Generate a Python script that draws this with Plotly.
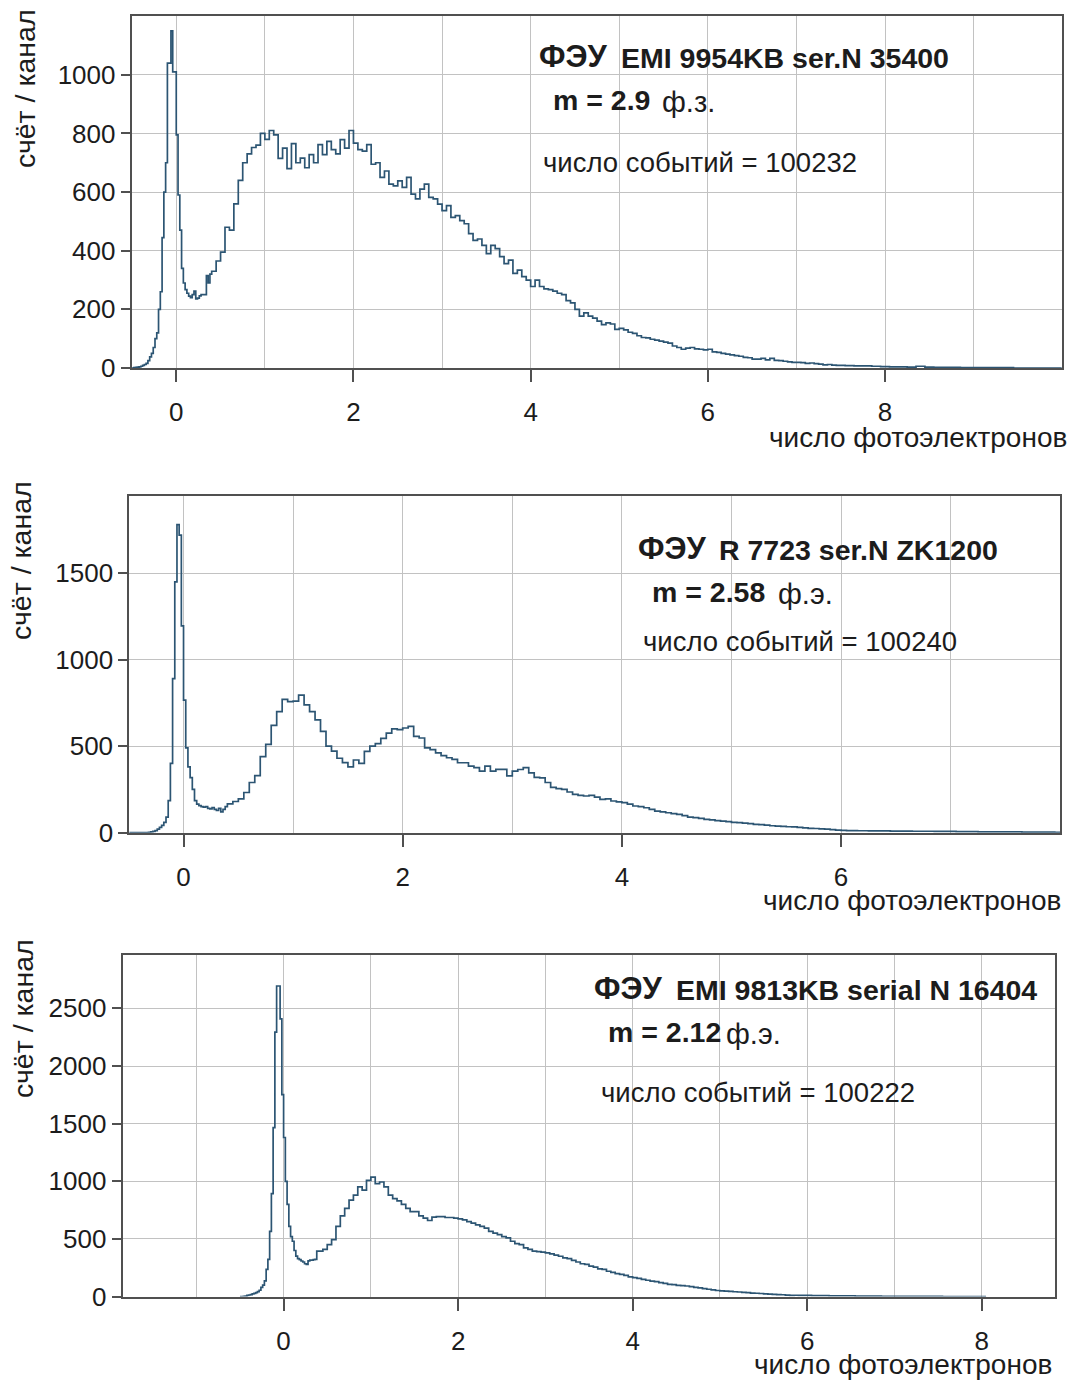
import numpy as np
import plotly.graph_objects as go

W, H = 1075, 1396

# ---------------- DATA ----------------
# Each histogram is given as segments: (first bin left edge, bin width, counts)
# Panel 1: EMI 9954KB
p1_fine = [0, 1, 2, 3, 4, 6, 9, 12, 16, 25,
           38, 50, 70, 100, 120, 200, 260, 445, 600, 700,
           1040, 1040, 1150, 1010, 1010, 795, 590, 470, 340, 290,
           267, 255, 245, 240, 250, 262, 236, 238, 246, 250,
           250, 250, 315, 290, 320]
p1_mid = [330, 365, 395, 480, 470, 560, 640, 700, 730, 752,
          760, 800, 780, 810, 795, 715, 750, 680, 765, 700,
          716, 683, 728, 700, 762, 728, 773, 745, 730, 779,
          750, 810, 767, 745, 740, 762, 695, 700, 650, 672,
          627, 621, 638, 616, 650, 593, 577, 610, 627, 582,
          577, 559, 537, 554, 514, 520, 503, 492, 458, 435,
          440, 418, 390, 418, 407, 380, 356, 368, 323, 334,
          312, 300, 278, 300, 278, 270, 267, 262, 255, 250,
          230, 222, 200, 177, 188, 177, 170, 160, 148, 154,
          150, 132, 135, 130, 122, 118, 110, 104, 103, 98,
          95, 92, 88, 85, 75, 70, 64, 68, 70, 65,
          64, 62, 64, 55, 53, 50, 47, 45, 42, 40,
          36, 35, 30, 30, 33, 28, 33, 26, 25, 23,
          21, 19, 19, 18, 16, 17, 15, 13, 11, 12,
          10]
p1_tail = [9, 8, 7, 7, 6, 5, 4, 4, 3, 6, 3, 2, 2, 2, 1, 1, 1, 1, 1, 1, 0, 0, 0, 0, 0, 0]

# Panel 2: R 7723
p2_fine = [0, 0, 0, 0, 0, 0, 0, 1, 1, 2,
           4, 7, 12, 20, 30, 42, 60, 90, 185, 400,
           890, 1450, 1780, 1720, 1195, 766, 490, 380, 318, 250,
           185, 165, 156, 150, 147, 150, 140, 137, 145, 135,
           128, 140, 120, 135, 150]
p2_mid = [166, 180, 195, 232, 290, 330, 440, 510, 620, 700,
          770, 757, 760, 795, 738, 700, 652, 585, 500, 471,
          430, 405, 380, 420, 400, 470, 500, 515, 545, 575,
          600, 595, 605, 614, 557, 547, 490, 480, 461, 445,
          433, 423, 404, 404, 385, 376, 356, 385, 356, 366,
          366, 328, 356, 365, 376, 345, 320, 317, 290, 262,
          255, 250, 235, 221, 215, 212, 215, 205, 192, 195,
          183, 178, 173, 165, 154, 150, 144, 135, 125, 120,
          115, 110, 106, 98, 90, 87, 82, 77, 74, 70,
          67, 64, 60, 58, 55, 52, 48, 46, 43, 40,
          38, 36, 34, 33, 30, 28, 25, 24, 22, 20,
          17, 15, 13]
p2_tail = [12, 11, 10, 10, 9, 9, 8, 8, 7, 7, 6, 6, 5, 5, 4, 4, 3, 3, 3, 2, 2]

# Panel 3: EMI 9813KB
p3_fine = [0, 0, 2, 5, 10, 14, 18, 23, 28, 35,
           43, 55, 80, 100, 137, 237, 323, 566, 894, 1466,
           2294, 2694, 2694, 2409, 1751, 1380, 1000, 800, 609, 520,
           480, 400, 351, 330, 320, 309, 300, 285, 280, 310,
           317, 317, 320, 323, 394]
p3_mid = [394, 409, 451, 494, 609, 700, 766, 837, 880, 951,
          923, 1009, 1037, 980, 994, 951, 880, 850, 830, 800,
          766, 737, 737, 700, 680, 660, 690, 694, 694, 686,
          686, 680, 675, 666, 650, 637, 623, 610, 594, 566,
          550, 537, 520, 509, 480, 460, 451, 423, 410, 394,
          390, 385, 380, 370, 360, 350, 336, 330, 315, 300,
          285, 279, 265, 255, 240, 236, 220, 210, 200, 193,
          185, 172, 164, 158, 150, 142, 135, 130, 122, 115,
          106, 104, 98, 95, 92, 86, 80, 75, 69, 64,
          58, 53, 49, 47, 45, 42, 40, 37, 34, 31,
          29, 27, 24, 22, 20, 18, 16, 13, 11, 12,
          11, 10, 11]
p3_tail = [9, 8, 7, 6, 6, 5, 4, 4, 3, 3, 3, 2, 2, 2, 2, 1, 1, 1, 1, 1]

panel_titles = ["EMI 9954KB ser.N 35400", "R 7723 ser.N ZK1200", "EMI 9813KB serial N 16404"]
panel_m = ["m = 2.9", "m = 2.58", "m = 2.12"]
panel_unit = ["ф.з.", "ф.э.", "ф.э."]
panel_events = ["число событий = 100232", "число событий = 100240", "число событий = 100222"]
y_title = "счёт / канал"
x_title = "число фотоэлектронов"


def build(segments):
    xs, ys = [], []
    start = None
    for s0, step, vals in segments:
        if start is None:
            start = s0
        for i, v in enumerate(vals):
            xs.append(round(start + step * i, 4))
            ys.append(v)
        start = start + step * len(vals)
    xs.append(round(start, 4))
    ys.append(ys[-1])
    return xs, ys


series = [
    build([(-0.5, 0.02, p1_fine), (0.4, 0.05, p1_mid), (None, 0.1, p1_tail)]),
    build([(-0.5, 0.02, p2_fine), (0.4, 0.05, p2_mid), (None, 0.1, p2_tail)]),
    build([(-0.5, 0.02, p3_fine), (0.4, 0.05, p3_mid), (None, 0.1, p3_tail)]),
]

# ---------------- LAYOUT (pixel geometry) ----------------
FONT = "Liberation Sans, Arial, sans-serif"
TXT = "#1c1c1c"
GRID = "#c2c2c2"
AXC = "#505050"
LINE = "#2c5573"

# left, right, top, bottom in px; x range; y range; y dtick
geom = [
    dict(l=131.7, r=1061.7, t=16.5, b=372.0, xr=[-0.503, 9.994], yr=[0, 1199.5], dy=200),
    dict(l=129.3, r=1060.0, t=501.7, b=841.7, xr=[-0.495, 7.998], yr=[0, 1944], dy=500),
    dict(l=122.6, r=1055.0, t=965.0, b=1310.7, xr=[-1.845, 8.84], yr=[0, 2966], dy=500),
]

fig = go.Figure()
for i, (xs, ys) in enumerate(series):
    n = "" if i == 0 else str(i + 1)
    fig.add_trace(go.Scatter(x=xs, y=ys, mode="lines", line=dict(color=LINE, width=1.7, shape="hv"),
                             xaxis="x" + n, yaxis="y" + n, showlegend=False, hoverinfo="skip"))

layout = dict(width=W, height=H, margin=dict(l=0, r=0, t=0, b=0),
              paper_bgcolor="white", plot_bgcolor="white", showlegend=False,
              font=dict(family=FONT, size=26, color=TXT))

annotations = []


def px(xp):
    return xp / W


def py(yp):
    return 1 - yp / H


for i, g in enumerate(geom):
    n = "" if i == 0 else str(i + 1)
    layout["xaxis" + n] = dict(
        domain=[px(g["l"]), px(g["r"])], range=g["xr"], anchor="y" + n,
        tick0=0, dtick=2, showgrid=True, gridcolor=GRID, gridwidth=1,
        minor=dict(dtick=1, tick0=0, showgrid=True, gridcolor=GRID, gridwidth=1, ticklen=0),
        showline=True, mirror=True, linecolor=AXC, linewidth=2,
        ticks="outside", ticklen=12, tickwidth=1.5, tickcolor=AXC,
        ticklabelstandoff=8, zeroline=False,
        tickfont=dict(family=FONT, size=26, color=TXT))
    layout["yaxis" + n] = dict(
        domain=[py(g["b"]), py(g["t"])], range=g["yr"], anchor="x" + n,
        tick0=0, dtick=g["dy"], showgrid=True, gridcolor=GRID, gridwidth=1,
        showline=True, mirror=True, linecolor=AXC, linewidth=2,
        ticks="outside", ticklen=9, tickwidth=1.5, tickcolor=AXC,
        ticklabelstandoff=0, zeroline=False,
        tickfont=dict(family=FONT, size=26, color=TXT))


def ann(text, x, y, size, xanchor="left", angle=0, bold=False):
    if bold:
        text = "<b>" + text + "</b>"
    annotations.append(dict(text=text, x=px(x), y=py(y), xref="paper", yref="paper",
                            xanchor=xanchor, yanchor="middle", showarrow=False, textangle=angle,
                            font=dict(family=FONT, size=size, color=TXT)))


# axis titles
ann(y_title, 25, 90, 28.5, xanchor="center", angle=-90)
ann(y_title, 21, 567, 28.5, xanchor="center", angle=-90)
ann(y_title, 23, 1030, 28.5, xanchor="center", angle=-90)
ann(x_title, 1069, 442, 28, xanchor="right")
ann(x_title, 1063, 910, 28, xanchor="right")
ann(x_title, 1054, 1379, 28, xanchor="right")

# in-plot labels: (ФЭУ x, model x, header y, m x, unit x, m y, events x, events y)
lab = [
    (537, 619, 58, 551, 660, 101, 541, 164),
    (636, 717, 555, 650, 776, 598, 641, 648),
    (592, 674, 1000, 606, 724, 1043, 599, 1104),
]
for i, (fx, mx, hy, mmx, ux, my, ex, ey) in enumerate(lab):
    ann("ФЭУ", fx, hy - 1, 31, bold=True)
    ann(panel_titles[i], mx, hy + 1, 28.5, bold=True)
    ann(panel_m[i], mmx, my, 28.5, bold=True)
    ann(panel_unit[i], ux, my + 2, 29)
    ann(panel_events[i], ex, ey, 27.5)

layout["annotations"] = annotations
fig.update_layout(**layout)
fig.write_html("out.html")
